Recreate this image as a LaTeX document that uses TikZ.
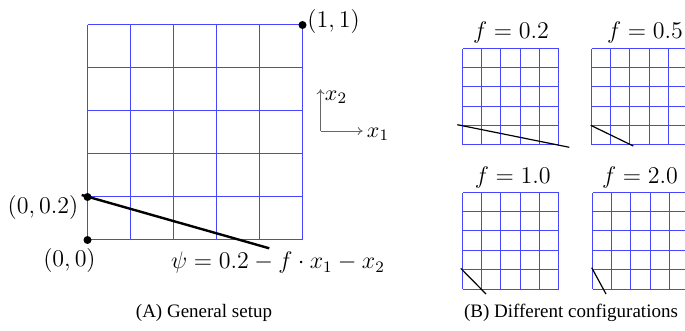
\documentclass[tikz,border=0pt]{standalone}
\usepackage{fontspec}
\usetikzlibrary{arrows.meta}
\newfontfamily\capfont{Liberation Serif}
\definecolor{gridblue}{RGB}{70,70,255}
\begin{document}
\begin{tikzpicture}[x=0.5pt,y=-0.5pt,
  gridline/.style={draw=gridblue,line width=0.5pt},
  cutline/.style={black,line width=1.2pt},
  smallcut/.style={black,line width=0.6pt},
  dotmark/.style={circle,fill=black,inner sep=0pt,minimum size=4pt},
  mathlabel/.style={inner sep=0pt,font=\fontsize{12}{14}\selectfont},
  axislabel/.style={inner sep=0pt,font=\fontsize{11}{13}\selectfont},
  axisarrow/.style={gray!80!black,line width=0.45pt,-{To[length=2.5pt,width=4pt]}},
  caption/.style={inner sep=0pt,font=\capfont\fontsize{9.5}{11}\selectfont}]
\useasboundingbox (0,0) rectangle (685,331);
% main grid
\foreach \d in {0,43,86,129,172,215}{
  \draw[gridline] (87.5+\d,25) -- (87.5+\d,240);
  \draw[gridline] (87.5,25+\d) -- (302.5,25+\d);
}
\draw[cutline] (81.7,195) -- (269.3,248.3);
\node[dotmark] (p11) at (302.5,25) {};
\node[dotmark] (p02) at (87.5,197) {};
\node[dotmark] (p00) at (87.5,240) {};
\node[mathlabel,anchor=west] (l11) at (307,22) {$(1,1)$};
\node[mathlabel] (l02) at (43,208) {$(0,0.2)$};
\node[mathlabel] (l00) at (69.5,261) {$(0,0)$};
\node[mathlabel] (lpsi) at (278,263) {$\psi=0.2-f\cdot x_1-x_2$};
% axes
\coordinate (o) at (320.5,131);
\coordinate (xe) at (362.7,131);
\coordinate (ye) at (320.5,89.3);
\draw[axisarrow] (o) -- (xe);
\draw[axisarrow] (o) -- (ye);
\node[axislabel] (x1) at (378,134) {$x_1$};
\node[axislabel] (x2) at (336,97) {$x_2$};
\node[caption] (capA) at (204,313) {(A) General setup};
% small grids
\foreach \ox/\oy in {462.5/145, 591.5/145, 462.5/289, 592.5/289}{
  \foreach \d in {0,19,38,58,77,96}{
    \draw[gridline] (\ox+\d,\oy) -- (\ox+\d,\oy-96);
    \draw[gridline] (\ox,\oy-\d) -- (\ox+96,\oy-\d);
  }
}
\draw[smallcut] (457.3,124.7) -- (569.3,147.3);
\draw[smallcut] (590.7,125.3) -- (633.3,146);
\draw[smallcut] (460.7,268.3) -- (486,294);
\draw[smallcut] (591.7,267.7) -- (606,294);
\node[mathlabel] (fa) at (511,33) {$f=0.2$};
\node[mathlabel] (fb) at (645,33) {$f=0.5$};
\node[mathlabel] (fc) at (512.7,178) {$f=1.0$};
\node[mathlabel] (fd) at (640,178) {$f=2.0$};
\node[caption] (capB) at (571,313) {(B) Different configurations};
\end{tikzpicture}
\end{document}
